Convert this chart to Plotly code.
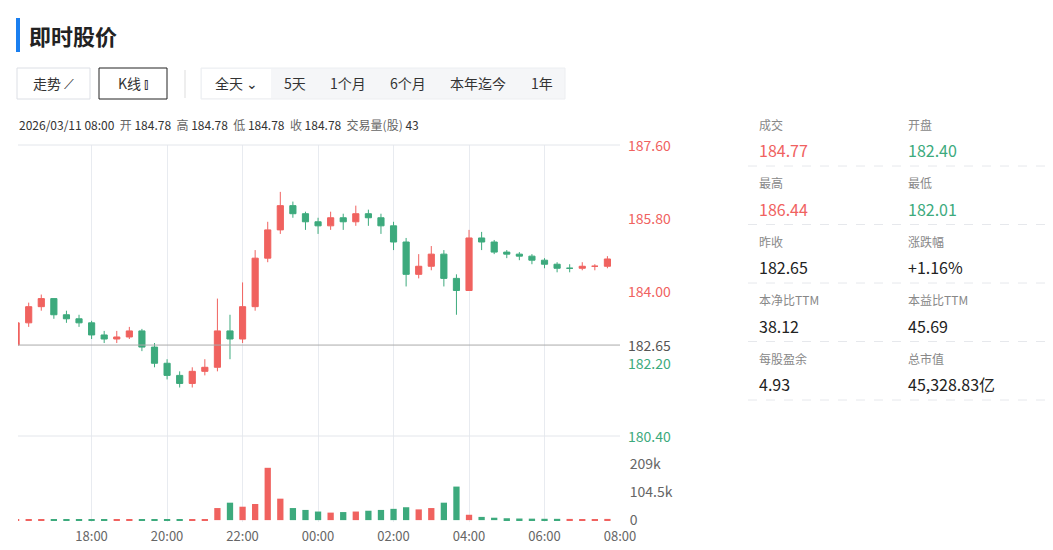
import plotly.graph_objects as go
import pandas as pd

times = pd.date_range("2026-03-10 16:00", periods=48, freq="20min")
opens  = [182.65,183.2,183.6,183.8,183.4,183.3,183.2,182.9,182.8,182.85,183.0,182.6,182.2,181.9,181.7,182.0,182.1,183.0,182.8,183.6,184.8,185.5,186.1,185.9,185.7,185.6,185.8,185.7,185.9,185.8,185.6,185.2,184.4,184.6,184.9,184.3,184.0,185.3,185.2,184.95,184.9,184.85,184.75,184.65,184.55,184.55,184.6,184.6]
closes = [183.2,183.6,183.8,183.4,183.3,183.2,182.9,182.8,182.85,183.0,182.6,182.2,181.9,181.7,182.0,182.1,183.0,182.8,183.6,184.8,185.5,186.1,185.9,185.7,185.6,185.8,185.7,185.9,185.8,185.6,185.2,184.4,184.6,184.9,184.3,184.0,185.3,185.2,184.95,184.9,184.85,184.75,184.65,184.55,184.55,184.6,184.6,184.78]
highs  = [183.4,183.7,183.9,183.8,183.5,183.4,183.25,183.0,183.0,183.1,183.05,182.7,182.3,182.0,182.1,182.3,183.8,183.4,184.2,185.0,185.7,186.44,186.2,185.95,185.8,185.95,185.9,186.1,186.0,185.9,185.7,185.3,184.9,185.1,185.0,184.4,185.5,185.45,185.25,185.0,184.95,184.9,184.8,184.7,184.65,184.7,184.65,184.85]
lows   = [182.5,183.1,183.5,183.3,183.2,183.1,182.8,182.7,182.7,182.8,182.5,182.1,181.8,181.6,181.6,181.9,182.0,182.3,182.7,183.5,184.7,185.4,185.8,185.5,185.4,185.5,185.5,185.6,185.6,185.4,185.0,184.1,184.3,184.5,184.1,183.4,184.0,185.0,184.9,184.8,184.75,184.65,184.55,184.45,184.45,184.5,184.5,184.55]
volumes = [3000,2500,2000,2200,1800,1500,1600,1400,1500,1700,1800,2000,2200,2400,2600,3000,45000,65000,50000,60000,195000,80000,45000,38000,32000,28000,30000,32000,35000,38000,42000,48000,40000,45000,65000,125000,20000,12000,9000,7000,6000,5500,5000,4800,4500,4200,4000,4500]

RED = "#f0625f"; GREEN = "#3daa7d"; PREV = 182.65
vcol = [RED if c >= o else GREEN for o, c in zip(opens, closes)]

W, H, OFF = 1045, 542, 8
def PX(x): return (x - OFF) / W
def PY(y): return 1 - (y - OFF) / H

fig = go.Figure()
fig.add_trace(go.Candlestick(x=times, open=opens, high=highs, low=lows, close=closes,
    increasing=dict(line=dict(color=RED, width=1), fillcolor=RED),
    decreasing=dict(line=dict(color=GREEN, width=1), fillcolor=GREEN),
    whiskerwidth=0, xaxis="x", yaxis="y", showlegend=False))
fig.add_trace(go.Bar(x=times, y=volumes, marker_color=vcol, marker_line_width=0,
    xaxis="x", yaxis="y2", showlegend=False))

x0, x1 = PX(18), PX(620)
fig.update_layout(
    width=W, height=H, margin=dict(l=0, r=0, t=0, b=0, autoexpand=False),
    paper_bgcolor="white", plot_bgcolor="white", bargap=0.5,
    font=dict(family="Noto Sans CJK SC, Noto Sans", size=12, color="#333"),
    xaxis=dict(domain=[x0, x1], range=["2026-03-10 16:03", "2026-03-11 08:00"],
        rangeslider=dict(visible=False), showgrid=True, gridcolor="#e8ebf0",
        tickvals=pd.date_range("2026-03-10 18:00", periods=8, freq="2h"),
        ticktext=["18:00","20:00","22:00","00:00","02:00","04:00","06:00","08:00"],
        tickfont=dict(color="#666", size=13), anchor="y2", ticks="", zeroline=False,
        showline=False, automargin=False, ticklabelstandoff=5),
    yaxis=dict(domain=[PY(436), PY(145)], range=[180.4, 187.6], side="right",
        showticklabels=False, showgrid=False, zeroline=False, anchor="x", automargin=False),
    yaxis2=dict(domain=[PY(522), PY(436)], range=[-7000, 313500], side="right",
        tickvals=[0, 104500, 209000], ticktext=["0", "104.5k", "209k"],
        tickfont=dict(size=14, color="#666"), showgrid=False, zeroline=False, anchor="x",
        ticks="outside", tickcolor="white", ticklen=6, automargin=False),
)
for v, c in [(187.6, RED), (185.8, RED), (184.0, RED), (182.2, GREEN), (180.4, GREEN)]:
    fig.add_annotation(x=1.0, xref="x domain", y=v, yref="y", text=f"{v:.2f}", showarrow=False,
        xanchor="left", yanchor="middle", xshift=6, font=dict(size=14, color=c))
fig.add_annotation(x=1.0, xref="x domain", y=PREV, yref="y", text=f"{PREV:.2f}", showarrow=False,
    xanchor="left", yanchor="middle", xshift=6, bgcolor="white", font=dict(size=14, color="#555"))

fig.add_shape(type="line", xref="x domain", yref="y", x0=0, x1=1, y0=PREV, y1=PREV, line=dict(color="#aaa", width=1))
fig.add_shape(type="line", xref="paper", yref="paper", x0=x0, x1=x1, y0=PY(145), y1=PY(145), line=dict(color="#e3e6eb", width=1))
fig.add_shape(type="line", xref="paper", yref="paper", x0=x0, x1=x1, y0=PY(436), y1=PY(436), line=dict(color="#e3e6eb", width=1))

def txt(x, y, t, size, color, xa="left"):
    fig.add_annotation(x=PX(x), y=PY(y), xref="paper", yref="paper", text=t, showarrow=False,
        xanchor=xa, yanchor="middle", font=dict(size=size, color=color))

# title
fig.add_shape(type="rect", xref="paper", yref="paper", x0=PX(16), x1=PX(20), y0=PY(52), y1=PY(18), fillcolor="#1a7ff0", line_width=0)
txt(27, 35, "<b>即时股价</b>", 22, "#222")
# buttons
def btn(xa, xb, t, border="#dcdfe5"):
    fig.add_shape(type="rect", xref="paper", yref="paper", x0=PX(xa), x1=PX(xb), y0=PY(99), y1=PY(68), line=dict(color=border, width=1), fillcolor="white")
    txt((xa + xb) / 2, 83, t, 14, "#333", "center")
btn(17, 90, "走势 ⟋")
btn(99, 167, "K线 ⫾", border="#222")
fig.add_shape(type="line", xref="paper", yref="paper", x0=PX(185), x1=PX(185), y0=PY(98), y1=PY(70), line=dict(color="#ddd", width=1))
fig.add_shape(type="rect", xref="paper", yref="paper", x0=PX(201), x1=PX(565), y0=PY(99), y1=PY(68), line=dict(color="#eceef1", width=1), fillcolor="#f5f6f8")
fig.add_shape(type="rect", xref="paper", yref="paper", x0=PX(202), x1=PX(271), y0=PY(98), y1=PY(69), line_width=0, fillcolor="white")
for cx, t in [(236, "全天 ⌄"), (295, "5天"), (348, "1个月"), (408, "6个月"), (478, "本年迄今"), (542, "1年")]:
    txt(cx, 83, t, 14, "#333", "center")
txt(17, 124, "2026/03/11 08:00  <span style='color:#666'>开</span> 184.78  <span style='color:#666'>高</span> 184.78  <span style='color:#666'>低</span> 184.78  <span style='color:#666'>收</span> 184.78  <span style='color:#666'>交易量(股)</span> 43", 12, "#333")
# right panel
stats = [("成交", "184.77", RED, "开盘", "182.40", GREEN),
         ("最高", "186.44", RED, "最低", "182.01", GREEN),
         ("昨收", "182.65", "#222", "涨跌幅", "+1.16%", "#222"),
         ("本净比TTM", "38.12", "#222", "本益比TTM", "45.69", "#222"),
         ("每股盈余", "4.93", "#222", "总市值", "45,328.83亿", "#222")]
for i, (l1, v1, c1, l2, v2, c2) in enumerate(stats):
    yb = 124 + i * 58.5
    for xl, l, v, c in [(757, l1, v1, c1), (906, l2, v2, c2)]:
        txt(xl, yb, l, 12, "#888")
        txt(xl, yb + 26, v, 16, c)
    fig.add_shape(type="line", xref="paper", yref="paper", x0=PX(748), x1=PX(1048), y0=PY(yb + 42), y1=PY(yb + 42), line=dict(color="#e6e8ec", width=1, dash="dash"))

fig.write_html("out.html")
